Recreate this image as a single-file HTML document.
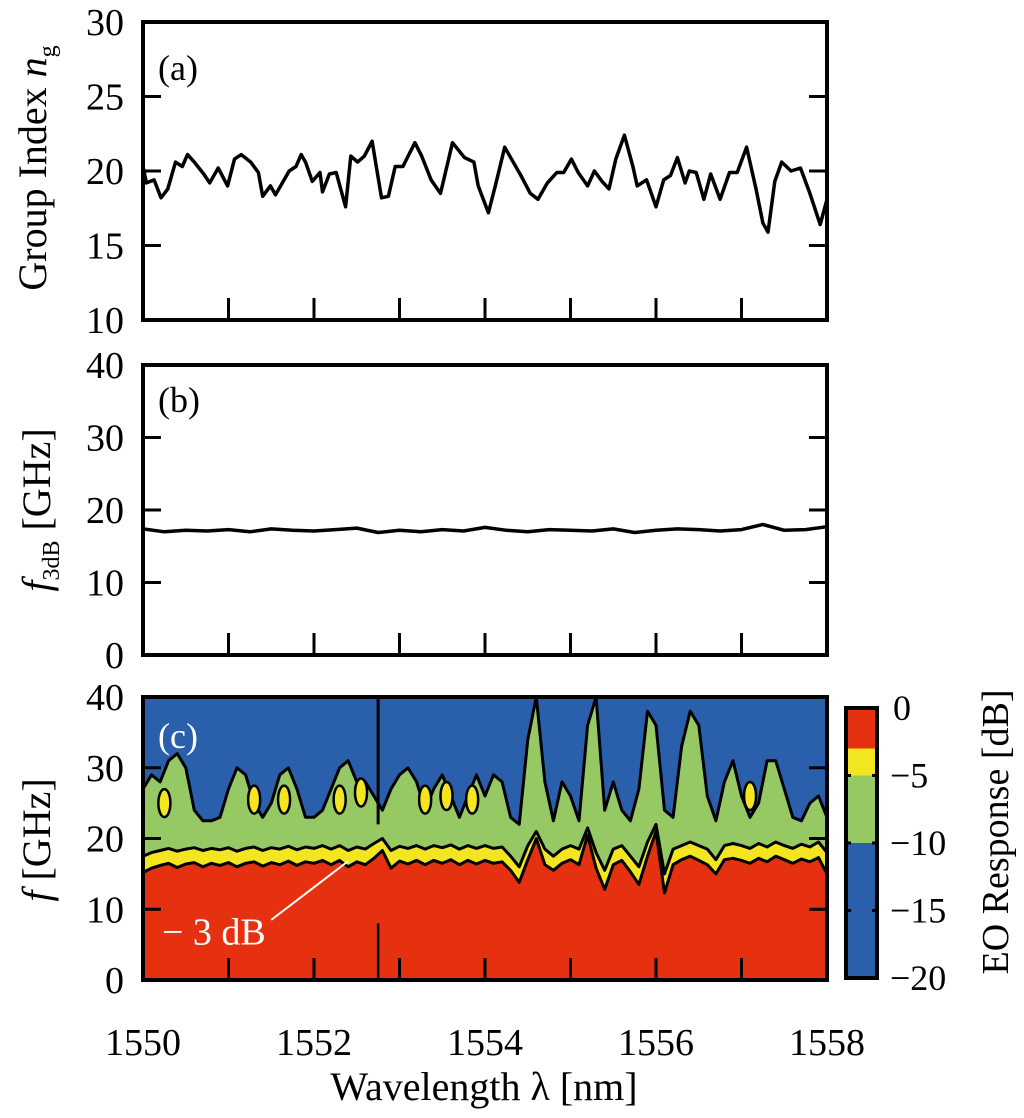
<!DOCTYPE html>
<html><head><meta charset="utf-8"><style>
body{margin:0;background:#fff;}
svg{display:block;font-family:"Liberation Serif",serif;}
</style></head><body>
<svg id="fig" width="1024" height="1118" viewBox="0 0 1024 1118">
<g id="pa"></g>
<g id="pb"></g>
<g id="pc"></g>
<g id="cb"></g>
<text x="46" y="168" font-size="40" text-anchor="middle" transform="rotate(-90 46 168)">Group Index <tspan font-style="italic">n</tspan><tspan font-size="24" dy="9">g</tspan></text>
<text x="50" y="510" font-size="40" text-anchor="middle" transform="rotate(-90 50 510)"><tspan font-style="italic">f</tspan><tspan font-size="24" dy="9">3dB</tspan><tspan dy="-9"> [GHz]</tspan></text>
<text x="50" y="840" font-size="40" text-anchor="middle" transform="rotate(-90 50 840)"><tspan font-style="italic">f</tspan> [GHz]</text>
<text x="484" y="1100" font-size="40" text-anchor="middle">Wavelength λ [nm]</text>
<text x="1008" y="832" font-size="38" text-anchor="middle" transform="rotate(-90 1008 832)">EO Response [dB]</text>
</svg>
<script>
const NS="http://www.w3.org/2000/svg";
const wlA=[1550.00,1550.04,1550.13,1550.21,1550.29,1550.38,1550.46,1550.52,1550.60,1550.71,1550.78,1550.88,1550.99,1551.07,1551.15,1551.26,1551.35,1551.40,1551.49,1551.55,1551.62,1551.71,1551.79,1551.85,1551.90,1551.98,1552.07,1552.10,1552.18,1552.26,1552.37,1552.43,1552.51,1552.59,1552.68,1552.79,1552.87,1552.95,1553.04,1553.18,1553.26,1553.37,1553.48,1553.62,1553.76,1553.87,1553.92,1554.04,1554.12,1554.23,1554.31,1554.42,1554.53,1554.62,1554.73,1554.84,1554.92,1555.01,1555.09,1555.20,1555.28,1555.37,1555.45,1555.53,1555.63,1555.73,1555.78,1555.89,1556.00,1556.09,1556.17,1556.25,1556.34,1556.39,1556.47,1556.56,1556.64,1556.75,1556.86,1556.95,1557.06,1557.17,1557.25,1557.31,1557.39,1557.47,1557.58,1557.69,1557.80,1557.92,1558.00];
const ngA=[20.3,19.2,19.4,18.2,18.8,20.6,20.3,21.1,20.6,19.8,19.2,20.2,19.0,20.8,21.1,20.6,19.9,18.3,19.0,18.4,19.1,20.0,20.3,21.1,20.6,19.3,19.9,18.6,19.8,19.9,17.6,21.0,20.6,21.0,22.0,18.2,18.3,20.3,20.3,21.9,21.0,19.4,18.5,21.9,20.9,20.6,19.0,17.2,19.0,21.6,20.8,19.7,18.5,18.1,19.2,19.9,19.9,20.8,19.9,19.0,20.0,19.3,18.8,20.8,22.4,20.3,19.0,19.4,17.6,19.4,19.7,20.9,19.2,20.0,19.9,18.1,19.8,18.1,19.9,19.9,21.6,18.8,16.5,15.9,19.3,20.6,20.0,20.2,18.5,16.4,18.1];
const wlB=[1550,1550.25,1550.5,1550.75,1551,1551.25,1551.5,1551.75,1552,1552.25,1552.5,1552.75,1553,1553.25,1553.5,1553.75,1554,1554.25,1554.5,1554.75,1555,1555.25,1555.5,1555.75,1556,1556.25,1556.5,1556.75,1557,1557.25,1557.5,1557.75,1558];
const f3A=[17.4,17.0,17.2,17.1,17.3,17.0,17.4,17.2,17.1,17.3,17.5,16.9,17.2,17.0,17.3,17.1,17.6,17.2,17.0,17.3,17.2,17.1,17.4,16.9,17.2,17.4,17.3,17.1,17.3,18.0,17.2,17.3,17.7];
const wlC=[];for(let i=0;i<=80;i++)wlC.push(1550+i*0.1);
const greenTop=[27,29,28,31,32,30,24,22.5,22.5,23,27,30,29,25,23,25,29,30,27,23,23,24,27,30,31,28,28,26,24,27,29,30,28,24,27,29,26,23,26,29,26,29,28,23,22,34,40,28,22.5,28,26,22.5,36,40,24,28,24,22.5,27,38,36,24,23,33,38,36,26,22.5,28,31,26,23,25,31,31,27,23,22.5,25,26,23];
const yellowTop=[17.5,18,18.3,18.6,18.2,18.5,18.7,18.3,18.6,18.4,18.7,18.2,18.6,18.8,18.3,18.7,18.5,18.9,18.4,18.8,18.6,19,18.5,19,18.3,18.8,18.5,19.3,20,18.3,18.9,18.6,19,18.5,19,18.7,19.1,18.5,19,18.6,19,18.6,18.8,17.5,16,19,21,18.5,17.5,18.5,19,18.5,21.5,18,15.5,18.5,19,17.5,16,19.5,22,15,18.5,19,19.5,19,18.5,17,19,19.3,19,18.6,19.3,18.8,19.5,19,18.6,19.2,18.8,19.5,18];
const redTop=[15.2,15.8,16.2,16.5,15.9,16.4,16.6,16.0,16.5,16.2,16.6,16.0,16.5,16.7,16.1,16.6,16.3,16.8,16.2,16.7,16.5,16.9,16.3,16.9,16.0,16.7,16.3,17.2,18.3,15.8,16.8,16.4,16.9,16.3,16.9,16.5,17.0,16.3,16.9,16.4,16.9,16.5,16.7,15.5,13.8,17.0,20.0,16.3,15.5,16.5,17.0,16.3,20.5,15.8,12.8,16.3,16.9,15.3,13.5,17.5,21.0,12.3,16.3,17.0,17.5,16.9,16.3,15.0,17.0,17.2,16.9,16.5,17.2,16.7,17.5,17.0,16.5,17.1,16.7,17.3,15.0];
const islandWl=[1550.25,1551.3,1551.65,1552.3,1552.55,1553.3,1553.55,1553.85,1557.1];
const islandF=[25,25.5,25.5,25.5,26.5,25.5,26,25.5,26];
const cbLevels=[0,-3,-5,-10,-20];
const cbColors=["#e5310f","#f3e620","#96c864","#2a5fac"];
const cbTicks=[0,-5,-10,-15,-20];

const X0=143,X1=827;
const xs=w=>X0+(w-1550)/8*(X1-X0);
function mk(p,tag,at,txt){const e=document.createElementNS(NS,tag);for(const k in at)e.setAttribute(k,at[k]);if(txt!==undefined)e.textContent=txt;p.appendChild(e);return e;}
function axes(g,top,bot,ymin,ymax,ticks){
  const ys=v=>bot-(v-ymin)/(ymax-ymin)*(bot-top);
  for(const t of ticks){
    const lb=mk(g,'text',{x:124,y:ys(t)+13,'font-size':38,'text-anchor':'end'},String(t));
    
    
  }
  return ys;
}
function frame(g,top,bot,ys,ticks,name){
  for(const t of ticks){if(ys(t)<=top+1||ys(t)>=bot-1)continue;
    mk(g,'line',{x1:X0,x2:X0+18,y1:ys(t),y2:ys(t),stroke:'#000','stroke-width':3});
    mk(g,'line',{x1:X1-18,x2:X1,y1:ys(t),y2:ys(t),stroke:'#000','stroke-width':3});}
  for(let w=1551;w<=1557;w++)mk(g,'line',{x1:xs(w),x2:xs(w),y1:bot,y2:bot-22,stroke:'#000','stroke-width':3});
  const r=mk(g,'rect',{x:X0,y:top,width:X1-X0,height:bot-top,fill:'none',stroke:'#000','stroke-width':4});
  
  
}
// Panel a
const pa=document.getElementById('pa');
const ysA=axes(pa,22,320,10,30,[10,15,20,25,30]);
const la=mk(pa,'path',{d:wlA.map((w,i)=>(i?'L':'M')+xs(w).toFixed(1)+' '+ysA(ngA[i]).toFixed(1)).join(''),fill:'none',stroke:'#000','stroke-width':3.5,'stroke-linejoin':'round'});


frame(pa,22,320,ysA,[15,20,25],'panel-a');
const ta=mk(pa,'text',{x:158,y:80,'font-size':36},'(a)');


// Panel b
const pb=document.getElementById('pb');
const ysB=axes(pb,365,655,0,40,[0,10,20,30,40]);
const lb=mk(pb,'path',{d:wlB.map((w,i)=>(i?'L':'M')+xs(w).toFixed(1)+' '+ysB(f3A[i]).toFixed(1)).join(''),fill:'none',stroke:'#000','stroke-width':3.5,'stroke-linejoin':'round'});


frame(pb,365,655,ysB,[10,20,30],'panel-b');
const tb=mk(pb,'text',{x:158,y:412,'font-size':36},'(b)');


// Panel c
const pc=document.getElementById('pc');
const T=697,B=980;
const ysC=axes(pc,T,B,0,40,[0,10,20,30,40]);
mk(pc,'rect',{x:X0,y:T,width:X1-X0,height:B-T,fill:cbColors[3]});
function region(arr,color,name){
  const d='M'+X0+' '+B+wlC.map((w,i)=>'L'+xs(w).toFixed(1)+' '+ysC(Math.min(arr[i],40)).toFixed(1)).join('')+'L'+X1+' '+B+'Z';
  const p=mk(pc,'path',{d:d,fill:color,stroke:'#000','stroke-width':3,'stroke-linejoin':'round'});
  
  
}
region(greenTop,cbColors[2],'contour-minus10db');
islandWl.forEach((w,i)=>{
  const e=mk(pc,'ellipse',{cx:xs(w),cy:ysC(islandF[i]),rx:6,ry:14,fill:cbColors[1],stroke:'#000','stroke-width':2.5});
  
  
});
region(yellowTop,cbColors[1],'contour-minus5db');
region(redTop,cbColors[0],'contour-minus3db');
mk(pc,'line',{x1:xs(1552.75),x2:xs(1552.75),y1:T,y2:ysC(22),stroke:'#000','stroke-width':3});
mk(pc,'line',{x1:xs(1552.75),x2:xs(1552.75),y1:ysC(8),y2:B,stroke:'#000','stroke-width':2.5});
frame(pc,T,B,ysC,[10,20,30],'panel-c');
const tc=mk(pc,'text',{x:158,y:748,'font-size':36,fill:'#fff'},'(c)');


mk(pc,'line',{x1:xs(1551.5),y1:ysC(8.5),x2:xs(1552.4),y2:ysC(16.8),stroke:'#fff','stroke-width':2});
const t3=mk(pc,'text',{x:162,y:ysC(5),'font-size':38,fill:'#fff'},'− 3 dB');


// x tick labels
for(let w=1550;w<=1558;w+=2){
  const t=mk(document.getElementById('fig'),'text',{x:xs(w),y:1055,'font-size':38,'text-anchor':'middle'},String(w));
  
  
}
// colorbar
const cb=document.getElementById('cb');
const CT=708,CB=978,CX=846,CW=31;
const cy=v=>CT+(0-v)/20*(CB-CT);
for(let i=0;i<4;i++){
  const r=mk(cb,'rect',{x:CX,y:cy(cbLevels[i]),width:CW,height:cy(cbLevels[i+1])-cy(cbLevels[i]),fill:cbColors[i]});
  
  
}
for(const t of cbTicks){
  if(t!==0&&t!==-20){mk(cb,'line',{x1:CX,x2:CX+5,y1:cy(t),y2:cy(t),stroke:'#000','stroke-width':3});mk(cb,'line',{x1:CX+CW-5,x2:CX+CW,y1:cy(t),y2:cy(t),stroke:'#000','stroke-width':3});}
  const l=mk(cb,'text',{x:t===0?893:890,y:cy(t)+12,'font-size':36},t===0?'0':'−'+(-t));
  
  
}
mk(cb,'rect',{x:CX,y:CT,width:CW,height:CB-CT,fill:'none',stroke:'#000','stroke-width':4});
</script>
</body></html>
